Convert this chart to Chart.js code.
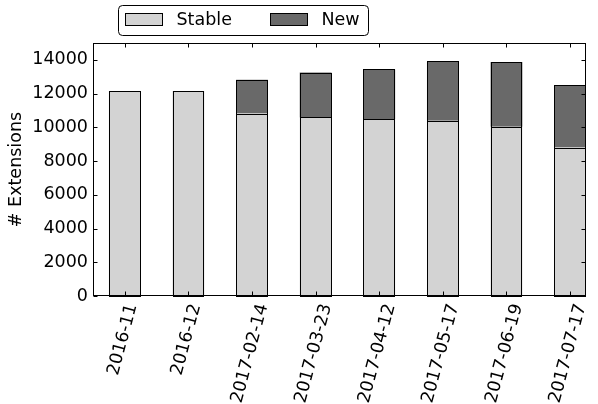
<!DOCTYPE html>
<html>
<head>
<meta charset="utf-8">
<script src="https://cdn.jsdelivr.net/npm/chart.js@4/dist/chart.umd.min.js"></script>
<style>
  body { margin: 0; background: #fff; }
</style>
</head>
<body>
<canvas id="chart" width="598" height="404"></canvas>
<script>
var categories = ['2016-11', '2016-12', '2017-02-14', '2017-03-23', '2017-04-12', '2017-05-17', '2017-06-19', '2017-07-17'];
var stableValues = [12150, 12150, 10820, 10590, 10490, 10390, 10040, 8800];
var newValues = [null, null, 2000, 2660, 2940, 3530, 3840, 3690];
var yTicks = [0, 2000, 4000, 6000, 8000, 10000, 12000, 14000];
var seriesNames = ['Stable', 'New'];
var seriesColors = ['#d3d3d3', '#696969'];

var FAMILY = '"DejaVu Sans"';
var SIZE = 17.5;

function toPoints(values) {
  return values.map(function (v, i) { return { x: i, y: v }; });
}

// matplotlib style frame, crisp bar edges, inward ticks, rotated labels and legend box
var decor = {
  id: 'decor',
  afterDatasetsDraw: function (chart) {
    var ctx = chart.ctx;
    var a = chart.chartArea;
    var xs = chart.scales.x;
    var ys = chart.scales.y;
    ctx.save();
    ctx.strokeStyle = '#000';
    ctx.lineWidth = 1;

    // bar outlines, snapped to pixels
    chart.data.datasets.forEach(function (ds, d) {
      chart.getDatasetMeta(d).data.forEach(function (bar, j) {
        if (ds.data[j].y == null) return;
        var p = bar.getProps(['x', 'y', 'base', 'width'], true);
        var l = Math.round(p.x - p.width / 2) + 0.5;
        var r = Math.round(p.x + p.width / 2) - 0.5;
        var t = Math.round(p.y) + 0.5;
        var b = Math.round(p.base) + 0.5;
        ctx.strokeRect(l, t, r - l, b - t);
      });
    });

    var L = Math.round(a.left) + 0.5, R = Math.round(a.right) - 0.5;
    var T = Math.round(a.top) + 0.5, B = Math.round(a.bottom) - 0.5;
    ctx.strokeRect(L, T, R - L, B - T);

    ctx.beginPath();
    yTicks.forEach(function (v) {
      var py = Math.round(ys.getPixelForValue(v)) + 0.5;
      ctx.moveTo(L, py); ctx.lineTo(L + 4, py);
      ctx.moveTo(R, py); ctx.lineTo(R - 4, py);
    });
    categories.forEach(function (c, i) {
      var px = Math.round(xs.getPixelForValue(i)) + 0.5;
      ctx.moveTo(px, B); ctx.lineTo(px, B - 4);
      ctx.moveTo(px, T); ctx.lineTo(px, T + 4);
    });
    ctx.stroke();

    // x tick labels, rotated 75deg, box centred on tick (like matplotlib)
    ctx.font = SIZE + 'px ' + FAMILY;
    ctx.fillStyle = '#000';
    ctx.textAlign = 'center';
    ctx.textBaseline = 'middle';
    var ang = 75 * Math.PI / 180;
    categories.forEach(function (c, i) {
      var px = xs.getPixelForValue(i);
      var w = ctx.measureText(c).width;
      var h = SIZE;
      var bh = w * Math.sin(ang) + h * Math.cos(ang);
      ctx.save();
      ctx.translate(px - 2, a.bottom + 6 + bh / 2);
      ctx.rotate(-ang);
      ctx.fillText(c, 0, 0);
      ctx.restore();
    });

    // legend
    var lx = 118.5, ly = 5.5, lw = 250, lh = 30, rad = 4;
    ctx.beginPath();
    ctx.moveTo(lx + rad, ly);
    ctx.arcTo(lx + lw, ly, lx + lw, ly + lh, rad);
    ctx.arcTo(lx + lw, ly + lh, lx, ly + lh, rad);
    ctx.arcTo(lx, ly + lh, lx, ly, rad);
    ctx.arcTo(lx, ly, lx + lw, ly, rad);
    ctx.closePath();
    ctx.fillStyle = '#fff';
    ctx.fill();
    ctx.stroke();
    var itemX = [125.5, 270.5];
    ctx.textAlign = 'left';
    seriesNames.forEach(function (name, k) {
      ctx.fillStyle = seriesColors[k];
      ctx.fillRect(itemX[k], 13.5, 37, 12);
      ctx.strokeRect(itemX[k], 13.5, 37, 12);
      ctx.fillStyle = '#000';
      ctx.fillText(name, itemX[k] + 51, 20);
    });
    ctx.restore();
  }
};

var ctx = document.getElementById('chart').getContext('2d');
var myChart = new Chart(ctx, {
  type: 'bar',
  data: {
    datasets: [{
      label: seriesNames[0],
      data: toPoints(stableValues),
      backgroundColor: seriesColors[0],
      borderWidth: 0
    }, {
      label: seriesNames[1],
      data: toPoints(newValues),
      backgroundColor: seriesColors[1],
      borderWidth: 0
    }]
  },
  options: {
    responsive: false,
    devicePixelRatio: 1,
    animation: false,
    layout: { padding: { left: 0, right: 12, top: 43, bottom: 0 } },
    datasets: { bar: { barPercentage: 1, categoryPercentage: 0.5 } },
    plugins: {
      legend: { display: false },
      tooltip: { enabled: false }
    },
    scales: {
      x: {
        type: 'linear',
        stacked: true,
        offset: false,
        min: -0.5,
        max: 7.25,
        grid: { display: false, drawTicks: false, offset: false },
        border: { display: false },
        ticks: { display: false },
        afterBuildTicks: function (axis) {
          axis.ticks = categories.map(function (c, i) { return { value: i }; });
        },
        afterFit: function (scale) { scale.height = 108; }
      },
      y: {
        stacked: true,
        min: 0,
        max: 15000,
        grid: { display: false, drawTicks: false },
        border: { display: false },
        ticks: {
          padding: 5,
          color: '#000',
          font: { family: FAMILY, size: SIZE },
          callback: function (v) { return String(v); }
        },
        afterBuildTicks: function (axis) {
          axis.ticks = yTicks.map(function (v) { return { value: v }; });
        },
        title: {
          display: true,
          text: '# Extensions',
          color: '#000',
          font: { family: FAMILY, size: SIZE },
          padding: { top: 6, bottom: 0 }
        },
        afterFit: function (scale) { scale.width = 93; }
      }
    }
  },
  plugins: [decor]
});
</script>
</body>
</html>
